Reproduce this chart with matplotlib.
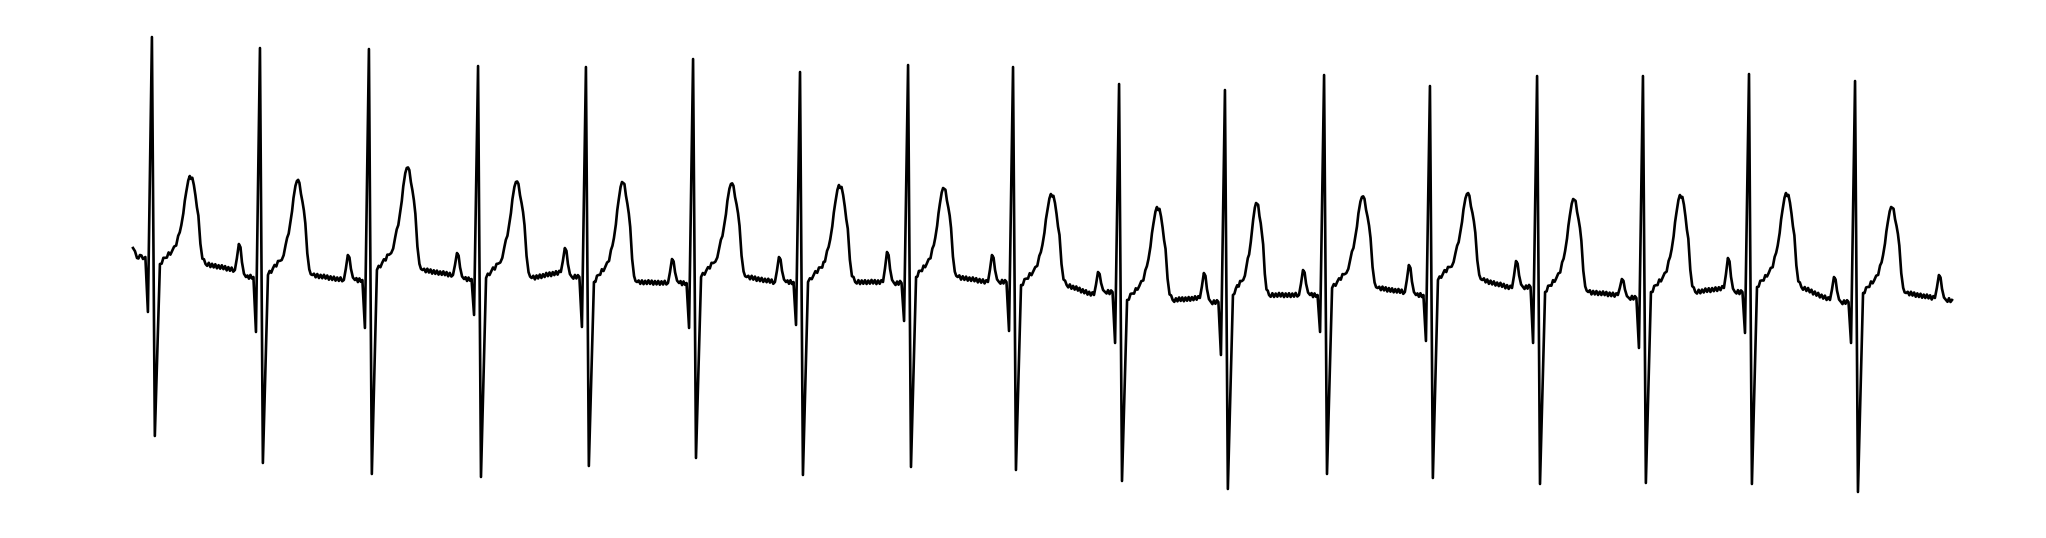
import numpy as np
import matplotlib
matplotlib.use("Agg")
import matplotlib.pyplot as plt

# ---- per-beat values (time in s, amplitude in mV) ----
r_time = [0.104, 0.698, 1.297, 1.897, 2.490, 3.079, 3.667, 4.261, 4.838,
          5.421, 6.003, 6.548, 7.130, 7.719, 8.301, 8.884, 9.467]
r_amp = [2.38, 2.27, 2.26, 2.09, 2.08, 2.16, 2.03, 2.10, 2.08,
         1.91, 1.85, 2.00, 1.89, 1.99, 1.99, 2.01, 1.94]
q_amp = [-0.37, -0.57, -0.53, -0.40, -0.52, -0.53, -0.50, -0.46, -0.56,
         -0.68, -0.80, -0.57, -0.66, -0.68, -0.73, -0.58, -0.68]
s_amp = [-1.61, -1.88, -1.99, -2.02, -1.91, -1.83, -2.00, -1.92, -1.95,
         -2.06, -2.14, -1.99, -2.03, -2.09, -2.08, -2.09, -2.17]
t_amp = [0.99, 0.94, 1.07, 0.93, 0.93, 0.91, 0.90, 0.87, 0.81,
         0.68, 0.72, 0.78, 0.81, 0.76, 0.80, 0.82, 0.68]
t_delay_ms = [214, 209, 214, 214, 204, 214, 220, 198, 214,
              214, 176, 214, 209, 204, 209, 209, 204]
base_post_t = [0.11, 0.00, 0.05, -0.03, -0.07, -0.02, -0.07, -0.02, -0.10,
               -0.25, -0.20, -0.13, -0.05, -0.17, -0.17, -0.12, -0.18]
base_pre_p = [0.05, -0.05, 0.00, 0.03, -0.08, -0.07, -0.07, -0.07, -0.20,
              -0.23, -0.20, -0.17, -0.13, -0.20, -0.13, -0.25, -0.23]
p_amp = [0.31, 0.20, 0.22, 0.27, 0.16, 0.18, 0.23, 0.20, 0.03,
         0.02, 0.05, 0.10, 0.14, -0.04, 0.17, -0.02, 0.00]
base_pre_q = [0.18, -0.02, -0.05, -0.04, -0.02, -0.08, -0.07, -0.08, -0.07,
              -0.17, -0.27, -0.20, -0.20, -0.12, -0.23, -0.17, -0.27]

# start of the record (tail of a P wave) and end of the record
lead_in_t = [0.000, 0.022, 0.038, 0.055]
lead_in_v = [0.27, 0.17, 0.20, 0.16]
end_t, end_v = 10.0, -0.25
virtual_next_r = 10.044   # P wave at the very end belongs to an unseen beat

# ---- beat shape template read from beat 1 (ms relative to R, fraction of wave height) ----
qrs_ms = [-36, -22, 0, 16, 44]
t_wave_ms = [72, 110, 132, 143, 160, 171, 187, 198, 206, 220, 237, 253, 264, 275, 292]
t_wave_frac = [0.07, 0.15, 0.21, 0.32, 0.44, 0.575, 0.82, 0.95, 1.0, 0.98,
               0.78, 0.55, 0.23, 0.06, 0.0]
p_wave_ms = [-138, -127, -116, -107, -99, -88, -77]     # relative to next R
p_wave_frac = [0.0, 0.45, 1.0, 0.9, 0.45, 0.1, 0.0]
# mains ripple read from the baseline of beat 4 (mV)
ripple = [0.018, -0.020, 0.015, -0.017, 0.021, -0.015, 0.019, -0.021, 0.016, -0.018]
ripple_step = 0.009  # s

# ---- assemble the trace ----
pts = []
for t, v in zip(lead_in_t, lead_in_v):
    pts.append((t, v, True))

n = len(r_time)
for i in range(n):
    R = r_time[i]
    pts.append((R + qrs_ms[0] / 1000, base_pre_q[i], True))
    pts.append((R + qrs_ms[1] / 1000, q_amp[i], False))
    pts.append((R + qrs_ms[2] / 1000, r_amp[i], False))
    pts.append((R + qrs_ms[3] / 1000, s_amp[i], False))
    pts.append((R + qrs_ms[4] / 1000, base_post_t[i], True))
    sc = t_delay_ms[i] / 212.0
    for dm, fr in zip(t_wave_ms, t_wave_frac):
        pts.append((R + dm * sc / 1000, base_post_t[i] + fr * (t_amp[i] - base_post_t[i]), True))
    nxt = r_time[i + 1] if i + 1 < n else virtual_next_r
    after = base_pre_q[i + 1] if i + 1 < n else end_v
    for dm, fr in zip(p_wave_ms, p_wave_frac):
        base = base_pre_p[i] if dm <= -116 else after
        pts.append((nxt + dm / 1000, base + fr * (p_amp[i] - base), True))
pts = [p for p in pts if p[0] <= end_t]
pts.append((end_t, end_v, True))

tt, vv = [], []
k = 0
for (t0, v0, f0), (t1, v1, f1) in zip(pts[:-1], pts[1:]):
    tt.append(t0)
    vv.append(v0)
    if f0 and f1 and t1 - t0 > 1.5 * ripple_step:
        m = int(round((t1 - t0) / ripple_step))
        for j in range(1, m):
            a = j / m
            tt.append(t0 + a * (t1 - t0))
            vv.append(v0 + a * (v1 - v0) + ripple[k % len(ripple)])
            k += 1
tt.append(pts[-1][0])
vv.append(pts[-1][1])

# ---- draw ----
fig = plt.figure(figsize=(20.46, 5.38), dpi=100)
ax = fig.add_axes([0, 0, 1, 1])
ax.plot(tt, vv, color="black", linewidth=1.9, solid_joinstyle="round")
ax.set_xlim(-133 / 181.9, (2046 - 133) / 181.9)
ax.set_ylim(-2.63, 2.75)
ax.axis("off")
fig.savefig("out.png", dpi=100, facecolor="white")
